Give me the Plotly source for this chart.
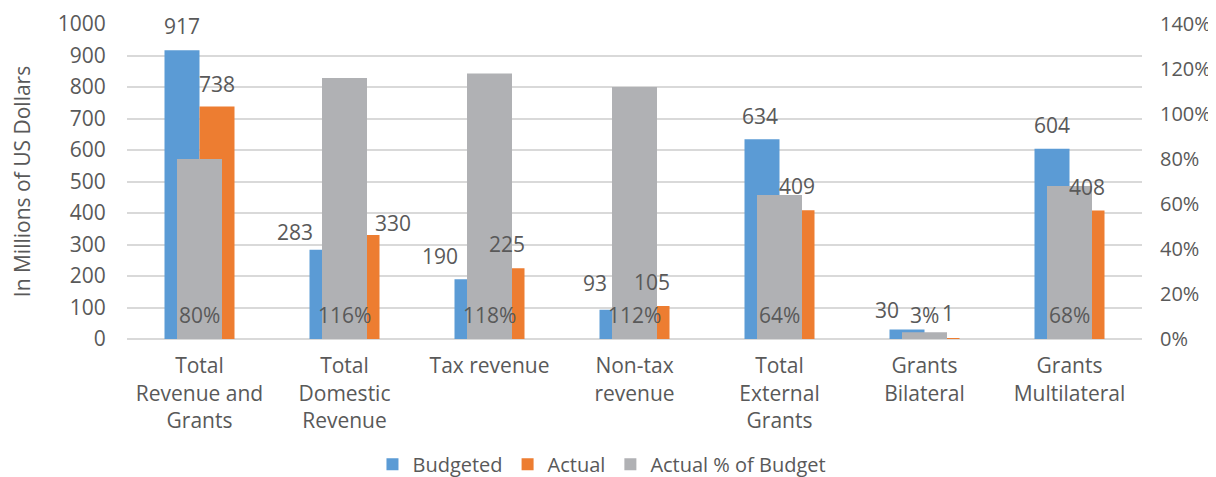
import plotly.graph_objects as go

categories = ["Total<br>Revenue and<br>Grants", "Total<br>Domestic<br>Revenue", "Tax revenue",
              "Non-tax<br>revenue", "Total<br>External<br>Grants", "Grants<br>Bilateral",
              "Grants<br>Multilateral"]
budgeted = [917, 283, 190, 93, 634, 30, 604]
actual = [738, 330, 225, 105, 409, 1, 408]
pct_of_budget = [0.80, 1.16, 1.18, 1.12, 0.64, 0.03, 0.68]
pct_labels = ["80%", "116%", "118%", "112%", "64%", "3%", "68%"]

# label nudges (pixels) to mimic the manually-positioned labels
bud_dx = [0, -32, -32, -22, -2, -20, 0]
bud_dy = [24, 18, 23, 27, 23, 20, 24]
act_dx = [0, 31, 0, 0, 0, 6, 0]
act_dy = [23, 12, 24, 24, 24, 26, 23]

BLUE = "#5B9BD5"
ORANGE = "#ED7D31"
GRAY = "#B0B1B4"
TXT = "#595959"
FONT = "Open Sans"
FS = 21

bw = 35 / 145
gw = 45 / 145

fig = go.Figure()
fig.add_trace(go.Bar(x=categories, y=budgeted, name="Budgeted", marker_color=BLUE,
                     width=bw, offset=-bw, marker_line_width=0))
fig.add_trace(go.Bar(x=categories, y=actual, name="Actual", marker_color=ORANGE,
                     width=bw, offset=0, marker_line_width=0))
fig.add_trace(go.Bar(x=categories, y=pct_of_budget, name="Actual % of Budget", marker_color=GRAY,
                     width=gw, offset=-gw / 2, marker_line_width=0, yaxis="y2"))

ann = []
for i, c in enumerate(categories):
    ann.append(dict(x=c, y=budgeted[i], xref="x", yref="y", text=str(budgeted[i]), showarrow=False,
                    xanchor="center", yanchor="middle", xshift=-17.5 + bud_dx[i], yshift=bud_dy[i],
                    font=dict(family=FONT, size=FS, color=TXT)))
    ann.append(dict(x=c, y=actual[i], xref="x", yref="y", text=str(actual[i]), showarrow=False,
                    xanchor="center", yanchor="middle", xshift=17.5 + act_dx[i], yshift=act_dy[i],
                    font=dict(family=FONT, size=FS, color=TXT)))
    ann.append(dict(x=c, y=0, xref="x", yref="y2", text=pct_labels[i], showarrow=False,
                    xanchor="center", yanchor="middle", yshift=24,
                    font=dict(family=FONT, size=FS, color=TXT)))

fig.update_layout(
    width=1208, height=469,
    margin=dict(l=119, r=74, t=16, b=138),
    paper_bgcolor="white", plot_bgcolor="white",
    barmode="overlay",
    font=dict(family=FONT, size=FS, color=TXT),
    showlegend=True,
    legend=dict(orientation="h", xref="container", yref="container", x=0.4917, y=0.027,
                xanchor="center", yanchor="middle", font=dict(family=FONT, size=20, color=TXT),
                itemsizing="constant", traceorder="normal"),
    xaxis=dict(type="category", showgrid=False, showline=False, zeroline=False, automargin=False,
               ticks="outside", ticklen=8, tickcolor="rgba(0,0,0,0)",
               tickfont=dict(family=FONT, size=FS, color=TXT), range=[-0.5, 6.5]),
    yaxis=dict(range=[0, 1000], dtick=100, showgrid=True, gridcolor="#D9D9D9", gridwidth=1.5,
               zeroline=True, zerolinecolor="#D9D9D9", zerolinewidth=1.5, showline=False,
               automargin=False,
               ticks="outside", ticklen=16, tickcolor="rgba(0,0,0,0)",
               tickfont=dict(family=FONT, size=FS, color=TXT),
               title=dict(text="In Millions of US Dollars", font=dict(family=FONT, size=FS, color=TXT),
                          standoff=26)),
    yaxis2=dict(range=[0, 1.4], dtick=0.2, tickformat=".0%", overlaying="y", side="right",
                showgrid=False, zeroline=False, showline=False, automargin=False,
                ticks="outside", ticklen=13, tickcolor="rgba(0,0,0,0)",
                tickfont=dict(family=FONT, size=20, color=TXT)),
    annotations=ann,
)

fig.write_html("out.html")
